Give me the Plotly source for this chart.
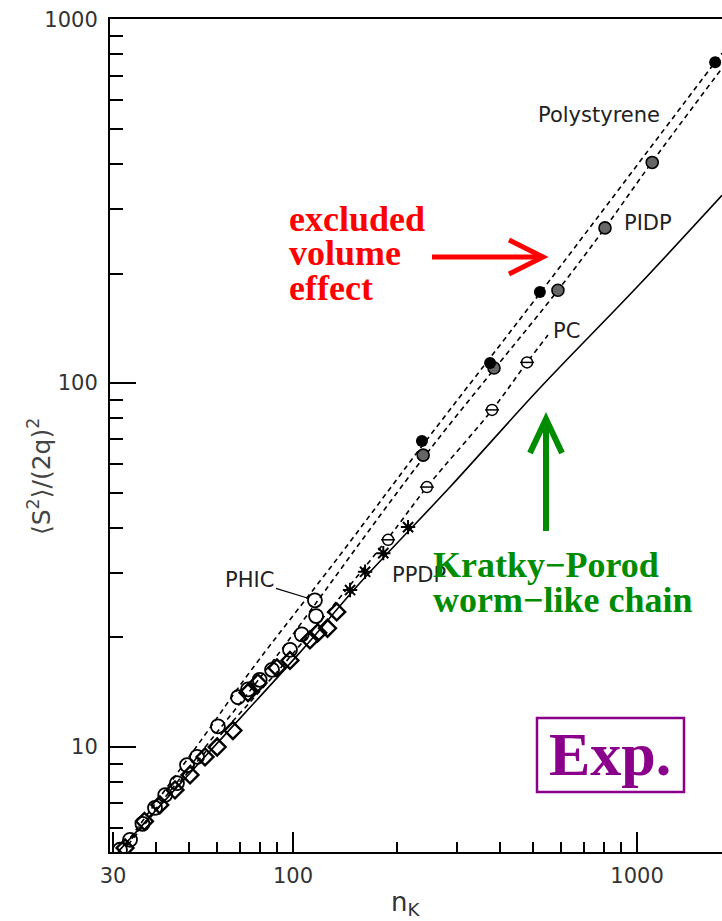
import math
import plotly.graph_objects as go

# ---------------- data ----------------
# Kratky-Porod worm-like chain (solid curve)
n_wlc = [31.0, 57.4, 104.8, 159.6, 286, 522, 1000, 1766]
s_wlc = [5.15, 9.75, 18.2, 28.8, 51.8, 96.9, 183.6, 328]

# dashed theoretical curves (excluded volume)
n_ps_curve = [32.5, 54.7, 75.0, 137, 237, 522, 1687, 1766]
s_ps_curve = [5.38, 10.6, 16.1, 33.7, 67.1, 176.6, 762, 806]

n_pidp_curve = [32.7, 54.7, 86.9, 239, 589, 807, 1106, 1766]
s_pidp_curve = [5.35, 9.81, 17.1, 62.2, 180, 267, 405, 733]

n_pc_curve = [33.1, 54.7, 96.1, 189, 245, 379, 479, 551]
s_pc_curve = [5.38, 9.51, 17.3, 37.5, 51.8, 84.4, 114, 135.5]

# experimental points
n_ps = [237, 374, 522, 1687]
s_ps = [69.3, 113.5, 178, 762]

n_pidp = [239, 384, 589, 807, 1107]
s_pidp = [63.4, 110, 180, 267, 404]

n_pc = [189, 245, 379, 479]
s_pc = [37.1, 51.8, 84.4, 114]

n_phic = [115.8, 116.7, 106, 98.0, 86.9, 80.0, 74.0, 69.2, 60.5, 52.6, 49.2, 46.0, 42.5, 39.7, 36.5, 33.6, 31.4]
s_phic = [25.3, 22.9, 20.4, 18.5, 16.3, 15.3, 14.4, 13.7, 11.4, 9.40, 8.92, 7.96, 7.38, 6.80, 6.15, 5.56, 5.22]

n_ppdp = [134, 126, 118, 112, 98, 89.8, 79.1, 74.0, 66.9, 60.2, 55.5, 50.2, 45.4, 41.0, 37.0, 32.5]
s_ppdp = [23.5, 21.2, 20.6, 19.7, 17.3, 16.5, 15.0, 14.1, 11.1, 10.0, 9.39, 8.38, 7.62, 6.93, 6.25, 5.28]

n_ppdp_star = [146.5, 162, 183, 216]
s_ppdp_star = [27.0, 30.3, 34.1, 40.2]

x_ticks = [30, 100, 1000]
x_minor = [40, 50, 60, 70, 80, 90, 200, 300, 400, 500, 600, 700, 800, 900]
y_ticks = [10, 100, 1000]
y_minor = [6, 7, 8, 9, 20, 30, 40, 50, 60, 70, 80, 90, 200, 300, 400, 500, 600, 700, 800, 900]

# ---------------- layout geometry ----------------
W, H = 722, 921
L, T, R, B = 110, 19, 0, 69
PW, PH = W - L - R, H - T - B


def pxx(x):
    return (x - L) / PW


def pyy(y):
    return (T + PH - y) / PH


fig = go.Figure()

fig.add_trace(go.Scatter(x=n_wlc, y=s_wlc, mode="lines",
                         line=dict(color="black", width=1.6), line_shape="spline"))
for nx, sy in [(n_ps_curve, s_ps_curve), (n_pidp_curve, s_pidp_curve), (n_pc_curve, s_pc_curve)]:
    fig.add_trace(go.Scatter(x=nx, y=sy, mode="lines", line_shape="spline",
                             line=dict(color="black", width=1.6, dash="5px,4px")))

fig.add_trace(go.Scatter(x=n_phic, y=s_phic, mode="markers",
                         marker=dict(symbol="circle-open", size=14, color="black",
                                     line=dict(width=1.8))))
fig.add_trace(go.Scatter(x=n_ppdp, y=s_ppdp, mode="markers",
                         marker=dict(symbol="diamond-open", size=13, color="black",
                                     line=dict(width=2.4))))
fig.add_trace(go.Scatter(x=n_ppdp_star, y=s_ppdp_star, mode="markers",
                         marker=dict(symbol="asterisk-open", size=12, color="black",
                                     line=dict(width=2))))
fig.add_trace(go.Scatter(x=n_pc, y=s_pc, mode="markers",
                         marker=dict(symbol="circle", size=11, color="white",
                                     line=dict(width=1.5, color="black"))))
fig.add_trace(go.Scatter(x=n_pc, y=s_pc, mode="markers",
                         marker=dict(symbol="line-ew-open", size=10, color="black",
                                     line=dict(width=1.5))))
fig.add_trace(go.Scatter(x=n_pidp, y=s_pidp, mode="markers",
                         marker=dict(symbol="circle", size=12, color="#666",
                                     line=dict(width=1.6, color="black"))))
fig.add_trace(go.Scatter(x=n_ps, y=s_ps, mode="markers",
                         marker=dict(symbol="circle", size=12, color="black")))

tickfont = dict(family="DejaVu Sans", size=21, color="#333")

fig.update_layout(
    width=W, height=H, margin=dict(l=L, r=R, t=T, b=B),
    paper_bgcolor="white", plot_bgcolor="white", showlegend=False,
    xaxis=dict(type="log", range=[math.log10(29.38), math.log10(1766)],
               tickvals=x_ticks, ticktext=[str(v) for v in x_ticks],
               ticks="inside", ticklen=20, tickwidth=1.5, tickcolor="black",
               showline=True, linewidth=2, linecolor="black", mirror=True,
               showgrid=False, zeroline=False, tickfont=tickfont, ticklabelstandoff=4,
               minor=dict(tickvals=x_minor, ticks="inside", ticklen=10,
                          tickwidth=1.5, tickcolor="black", showgrid=False)),
    yaxis=dict(type="log", range=[0.7115, 3.0005],
               tickvals=y_ticks, ticktext=[str(v) for v in y_ticks],
               ticks="inside", ticklen=26, tickwidth=1.5, tickcolor="black",
               showline=True, linewidth=2, linecolor="black", mirror=False,
               showgrid=False, zeroline=False, tickfont=tickfont, ticklabelstandoff=6,
               minor=dict(tickvals=y_minor, ticks="inside", ticklen=13,
                          tickwidth=1.5, tickcolor="black", showgrid=False)),
)

ann = []
lab = dict(family="DejaVu Sans", size=21, color="#222")


def note(txt, cx, cy, font, xanchor="center", **kw):
    d = dict(x=pxx(cx), y=pyy(cy), xref="paper", yref="paper", showarrow=False,
             text=txt, font=font, xanchor=xanchor, yanchor="middle")
    d.update(kw)
    ann.append(d)


# axis titles
note("⟨S<sup>2</sup>⟩/(2q)<sup>2</sup>", 40, 477,
     dict(family="DejaVu Sans", size=25, color="#444"), textangle=-90)
note("n<sub>K</sub>", 405, 903, dict(family="DejaVu Sans", size=26, color="#333"))
# curve labels
for txt, cx, cy in [("Polystyrene", 599, 115), ("PIDP", 648, 223), ("PC", 566, 331),
                    ("PPDP", 419, 575)]:
    note(txt, cx, cy, lab)
ann.append(dict(x=math.log10(n_phic[0]), y=math.log10(s_phic[0]), xref="x", yref="y",
                text="PHIC", font=lab, showarrow=True, arrowhead=0, arrowwidth=1.2,
                arrowcolor="black", ax=-65, ay=-20, standoff=7))

serif = "Liberation Serif, Times New Roman, serif"
for txt, cy in [("excluded", 219), ("volume", 253), ("effect", 288)]:
    note("<b>%s</b>" % txt, 287, cy, dict(family=serif, size=36, color="#ff0000"),
         xanchor="left")
for txt, cy in [("Kratky−Porod", 565), ("worm−like chain", 600)]:
    note("<b>%s</b>" % txt, 431, cy, dict(family=serif, size=36, color="#008c00"),
         xanchor="left")
note("<b>Exp.</b>", 610, 754, dict(family=serif, size=62, color="#8b008b"))
fig.update_layout(annotations=ann)

shapes = []
red = "#ff0000"
green = "#008c00"
shapes.append(dict(type="line", xref="paper", yref="paper", x0=pxx(432), y0=pyy(257),
                   x1=pxx(541), y1=pyy(257), line=dict(color=red, width=5)))
shapes.append(dict(type="path", xref="paper", yref="paper",
                   path="M %f,%f L %f,%f L %f,%f" % (pxx(509), pyy(240), pxx(543), pyy(257),
                                                     pxx(509), pyy(274)),
                   line=dict(color=red, width=5)))
shapes.append(dict(type="line", xref="paper", yref="paper", x0=pxx(546), y0=pyy(531),
                   x1=pxx(546), y1=pyy(421), line=dict(color=green, width=6)))
shapes.append(dict(type="path", xref="paper", yref="paper",
                   path="M %f,%f L %f,%f L %f,%f" % (pxx(530), pyy(453), pxx(546), pyy(419),
                                                     pxx(562), pyy(453)),
                   line=dict(color=green, width=6)))
shapes.append(dict(type="rect", xref="paper", yref="paper", x0=pxx(537), y0=pyy(792),
                   x1=pxx(684), y1=pyy(718), line=dict(color="#8b008b", width=2.5)))
fig.update_layout(shapes=shapes)

fig.write_html("out.html")
